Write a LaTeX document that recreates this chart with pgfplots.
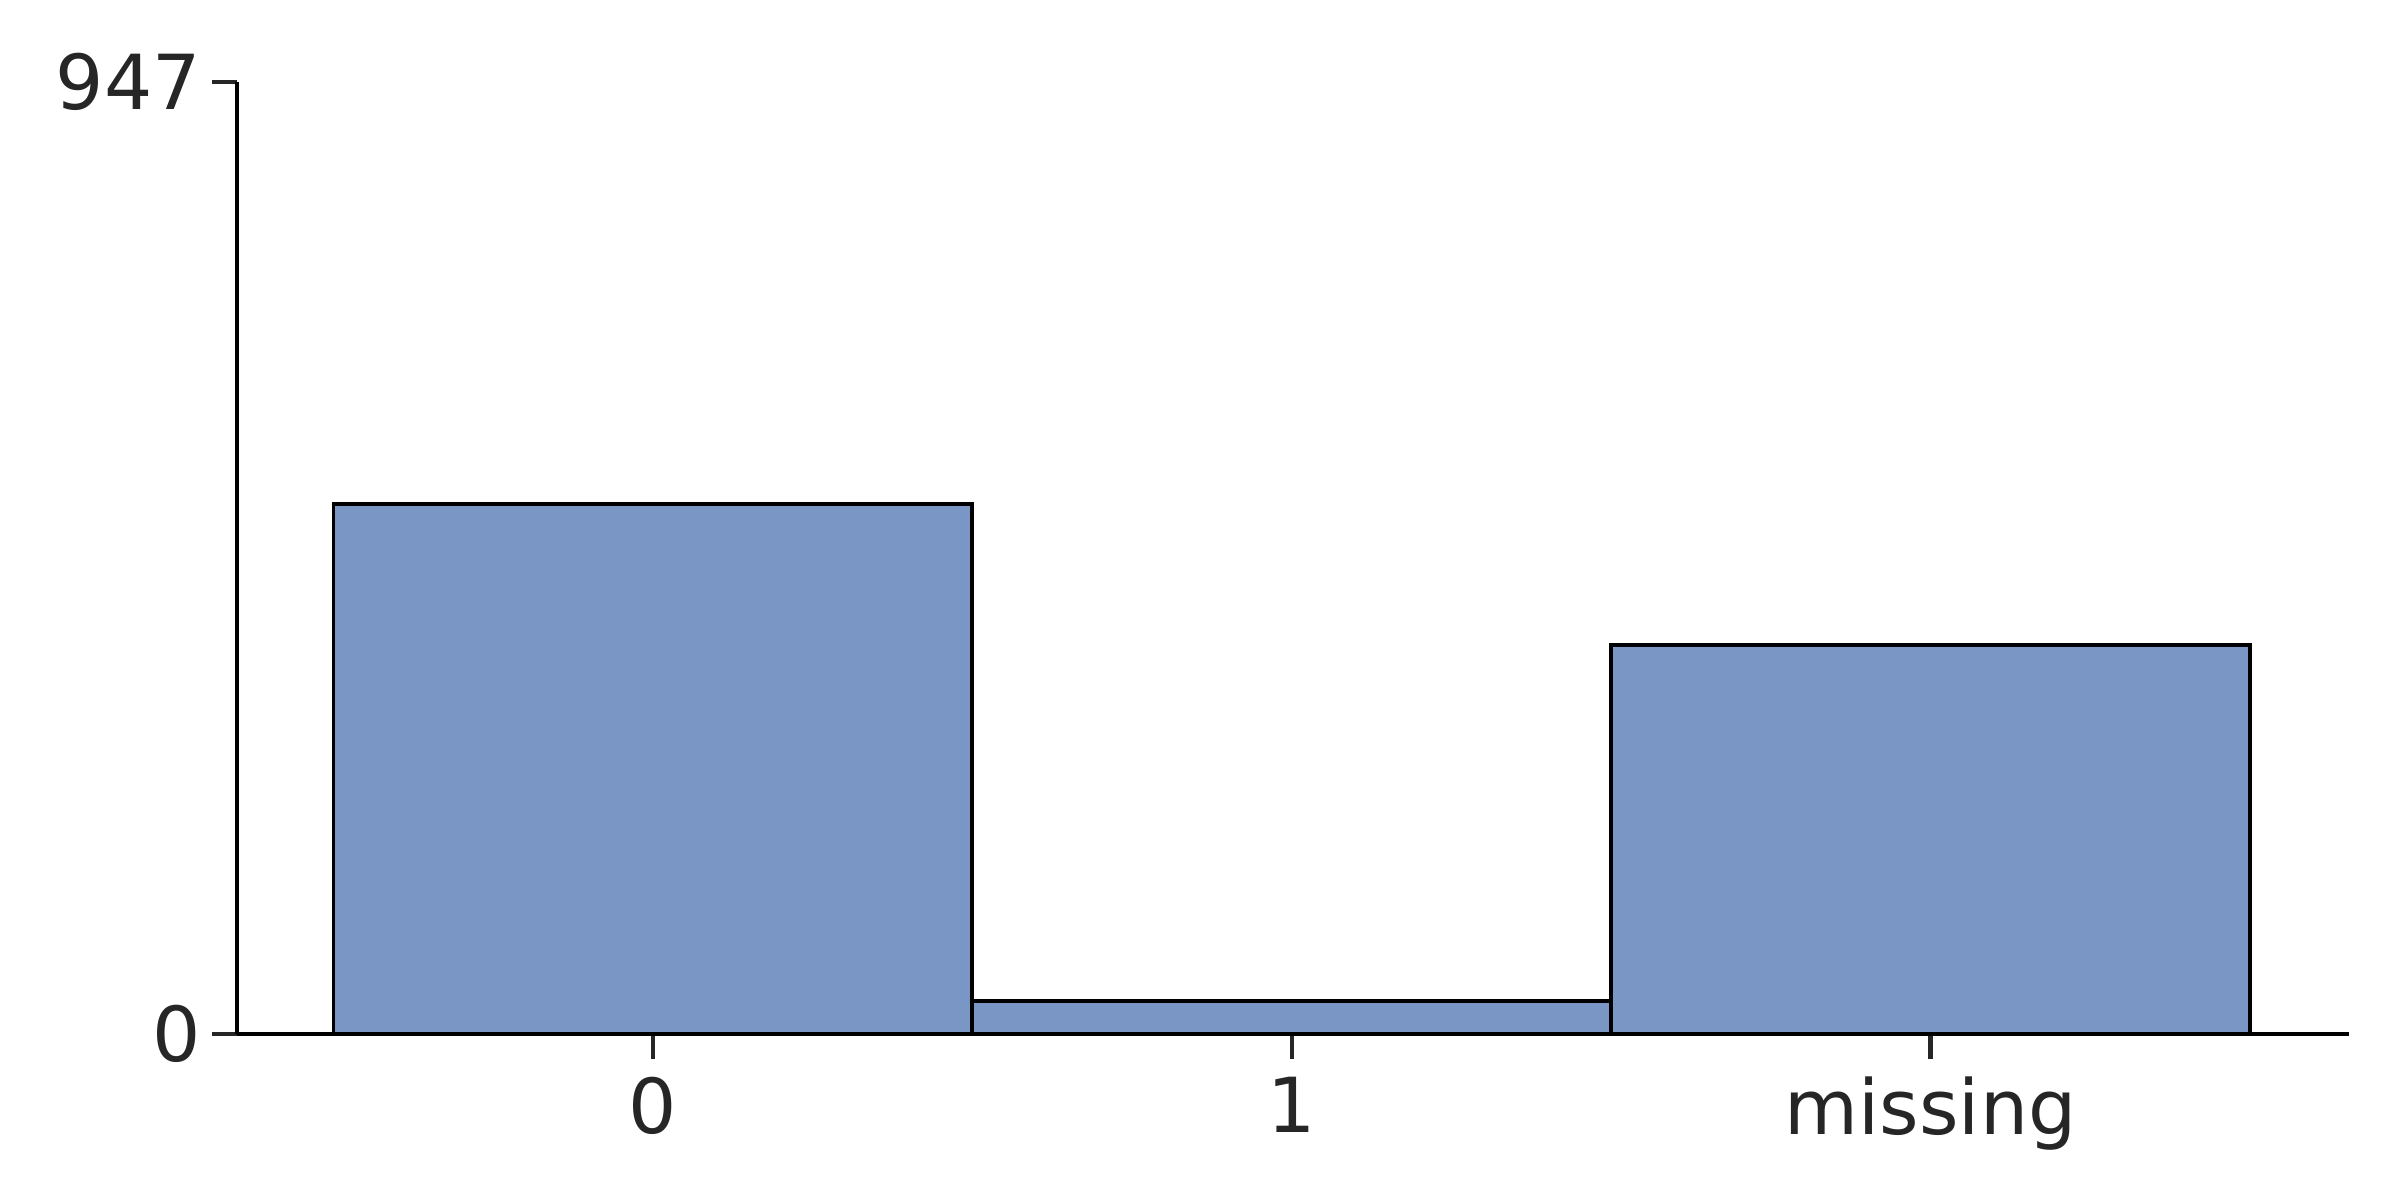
\documentclass[border=0pt]{standalone}
\usepackage{pgfplots}
\pgfplotsset{compat=1.18}
\usepackage{fontspec}
\setmainfont{DejaVu Sans}
\definecolor{barblue}{HTML}{7996C4}
\definecolor{txtgray}{HTML}{262626}
\begin{document}
\begin{tikzpicture}
\begin{axis}[
    scale only axis,
    width=21.12cm, height=9.52cm,
    xmin=-0.651, xmax=2.655,
    ymin=0, ymax=947,
    axis x line*=bottom,
    axis y line*=left,
    axis line style={black, line width=1.4pt, -},
    xtick={0,1,2},
    xticklabels={0,1,missing},
    ytick={0,947},
    tick align=outside,
    major tick length=0.25cm,
    tick style={txtgray, line width=1.2pt},
    /pgf/number format/assume math mode=true,
    yticklabel={\pgfmathprintnumber[fixed,precision=0]{\tick}},
    tick label style={font=\fontsize{21.6}{26}\selectfont, text=txtgray},
    xticklabel style={inner sep=5pt},
    yticklabel style={inner sep=3pt},
    clip=false,
]
\addplot[ybar, bar width=1, fill=barblue, draw=black, line width=1.1pt]
    coordinates {(0,527) (1,33) (2,387)};
\end{axis}
\path (current axis.south west) ++(-2.37cm,-1.66cm) coordinate (bbA);
\path (current axis.north east) ++(0.51cm,0.82cm) coordinate (bbB);
\useasboundingbox (bbA) rectangle (bbB);
\end{tikzpicture}
\end{document}
